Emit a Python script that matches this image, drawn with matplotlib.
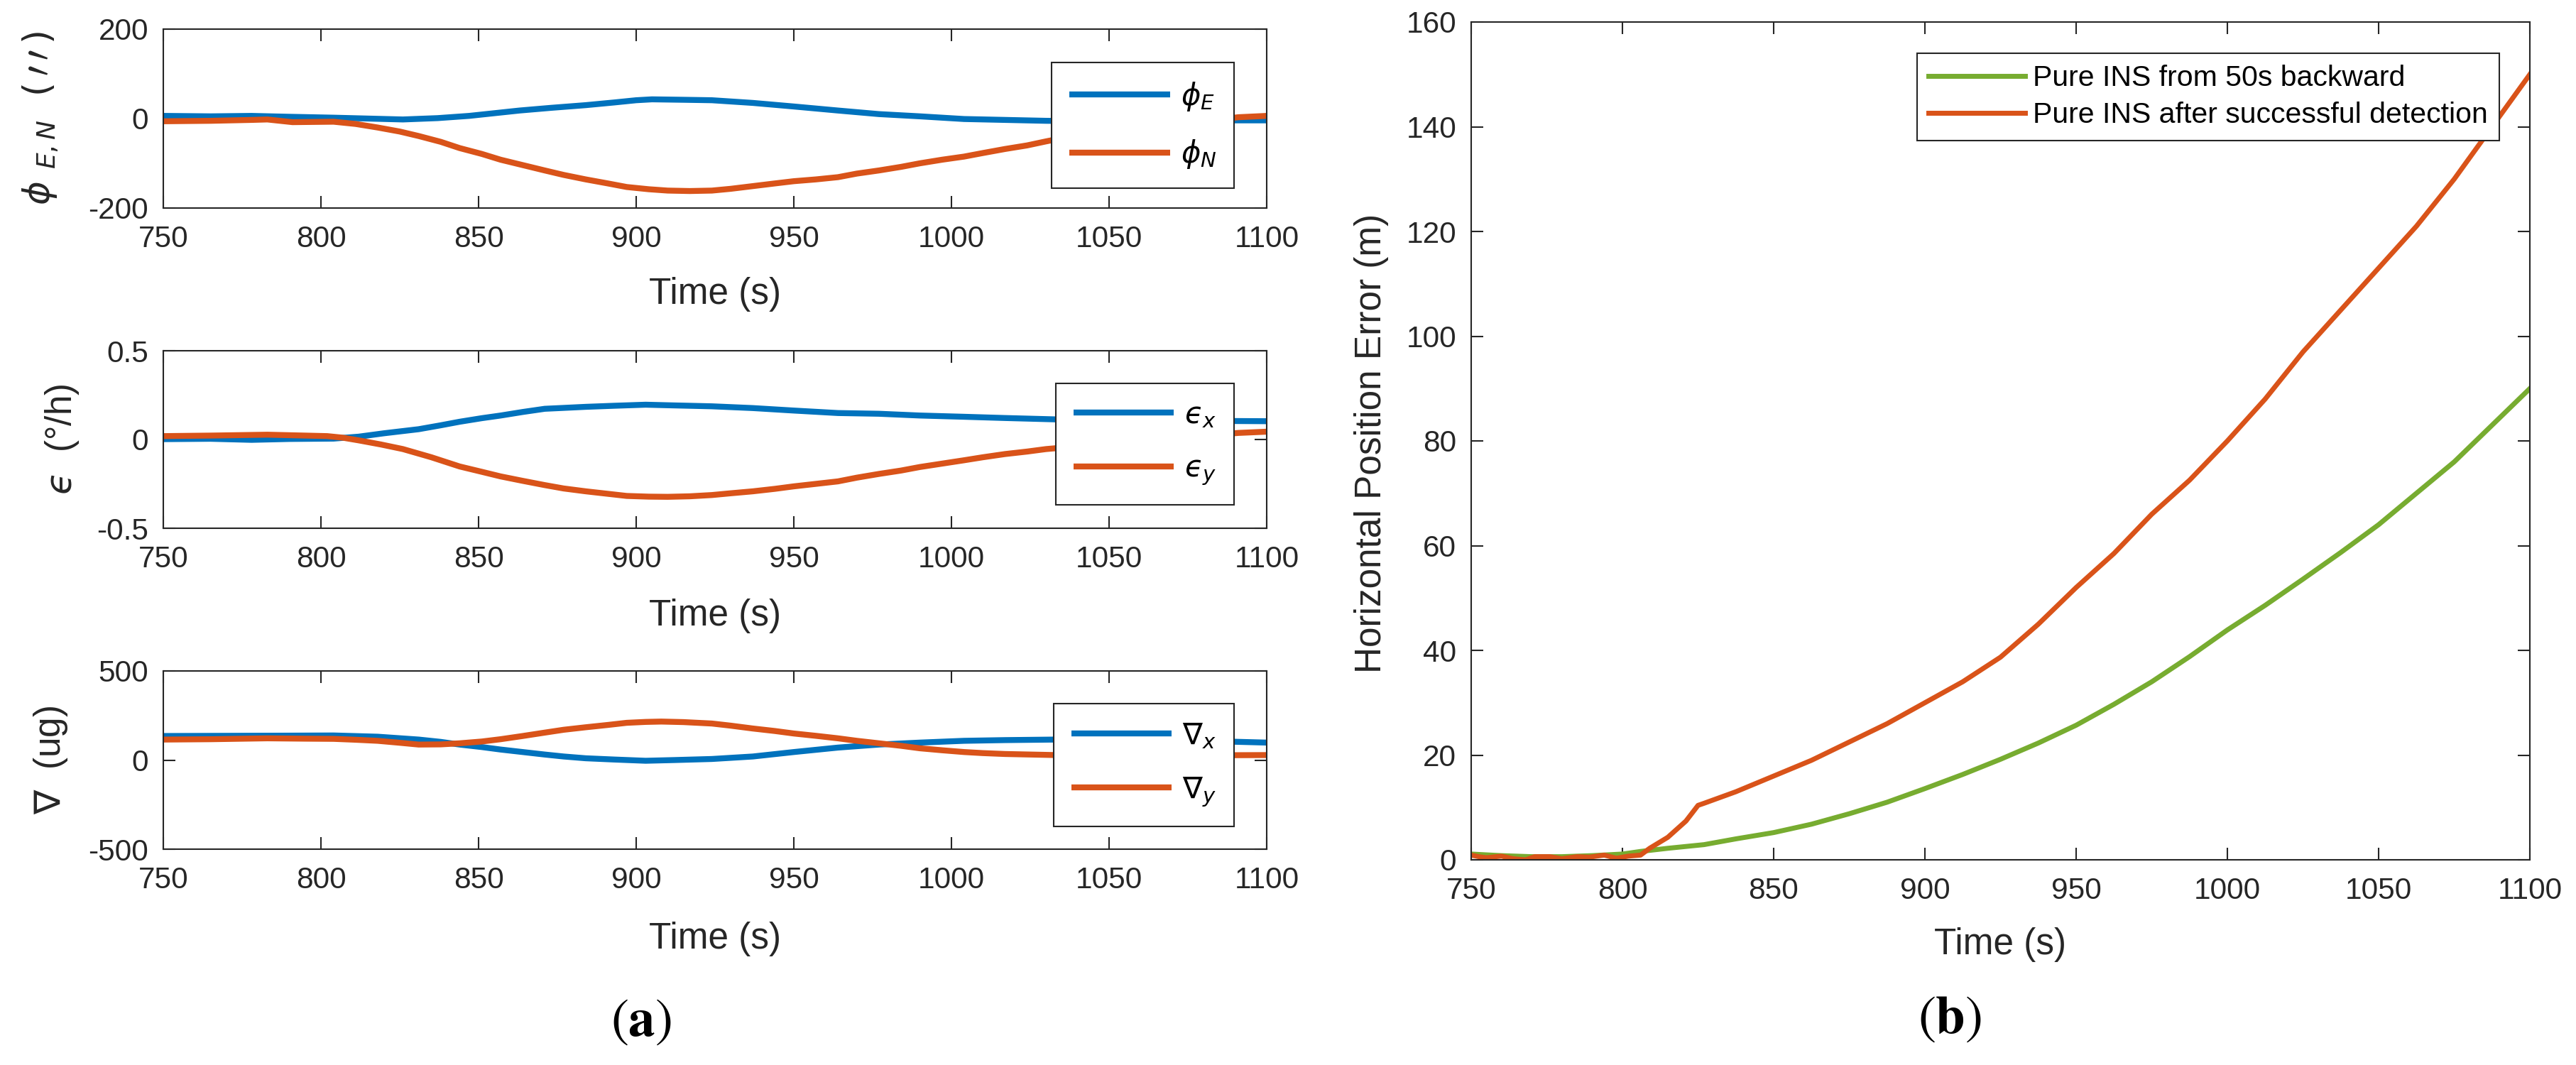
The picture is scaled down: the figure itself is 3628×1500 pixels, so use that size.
import matplotlib
matplotlib.use("Agg")
import matplotlib.pyplot as plt

plt.rcParams['font.family'] = ['Liberation Sans', 'DejaVu Sans']
plt.rcParams['axes.unicode_minus'] = False
plt.rcParams['mathtext.fontset'] = 'dejavusans'

BLUE = '#0072BD'
ORANGE = '#D95319'
GREEN = '#77AC30'
DARK = '#262626'

# ---------------- data ----------------
xticks = [750, 800, 850, 900, 950, 1000, 1050, 1100]

phiE_t = [750, 765, 778, 790, 804, 815, 826, 837, 847, 855, 863, 873, 884, 893, 900, 905, 915, 924,
          937, 950, 964, 977, 990, 1004, 1017, 1030, 1045, 1060, 1075, 1091, 1100]
phiE_v = [6, 5, 6, 4, 2, 0, -2, 1, 6, 12, 18, 24, 30, 36, 41, 43, 42, 41,
          35, 27, 18, 10, 5, -1, -3, -5, -6, -6, -5, -4, -4]

phiN_t = [750, 765, 778, 783, 791, 804, 811, 818, 825, 831, 838, 844, 851, 857, 864, 871, 877, 884,
          891, 897, 904, 910, 917, 924, 930, 937, 944, 950, 957, 964, 970, 977, 984, 990, 997, 1004,
          1010, 1017, 1024, 1030, 1035, 1050, 1065, 1080, 1091, 1100]
phiN_v = [-6, -5, -3, -2, -8, -7, -12, -20, -29, -39, -52, -66, -79, -92, -104, -116, -126, -136,
          -145, -153, -158, -161, -162, -161, -157, -151, -145, -140, -136, -131, -123, -116, -108, -100, -92, -85,
          -77, -68, -60, -51, -44, -31, -18, -6, 3, 6]

epsx_t = [750, 765, 778, 790, 804, 812, 820, 831, 838, 844, 851, 857, 864, 871, 877, 884, 893, 903,
          912, 924, 937, 950, 964, 977, 990, 1004, 1017, 1038, 1060, 1080, 1100]
epsx_v = [0.002, 0.004, -0.002, 0.003, 0.005, 0.016, 0.035, 0.058, 0.080, 0.10, 0.12, 0.135, 0.155,
          0.173, 0.178, 0.184, 0.190, 0.196, 0.192, 0.187, 0.177, 0.163, 0.149, 0.145, 0.135, 0.128,
          0.121, 0.111, 0.108, 0.105, 0.103]

epsy_t = [750, 765, 783, 795, 802, 807, 812, 819, 826, 835, 844, 851, 857, 864, 871, 877, 884, 891,
          897, 904, 910, 917, 924, 930, 937, 944, 950, 957, 964, 970, 977, 984, 990, 997, 1004, 1010,
          1017, 1024, 1030, 1039, 1055, 1070, 1085, 1091, 1100]
epsy_v = [0.019, 0.022, 0.027, 0.022, 0.019, 0.010, -0.005, -0.028, -0.054, -0.10, -0.152, -0.182,
          -0.208, -0.233, -0.257, -0.276, -0.292, -0.306, -0.318, -0.322, -0.323, -0.320, -0.313,
          -0.303, -0.292, -0.278, -0.264, -0.250, -0.236, -0.215, -0.194, -0.175, -0.155, -0.136,
          -0.117, -0.100, -0.082, -0.068, -0.054, -0.040, -0.015, 0.008, 0.028, 0.037, 0.044]

nabx_t = [750, 770, 790, 804, 818, 831, 838, 844, 851, 857, 864, 871, 877, 884, 893, 903, 912, 924,
          937, 950, 964, 977, 990, 1004, 1017, 1033, 1050, 1070, 1085, 1100]
nabx_v = [135, 136, 137, 138, 131, 115, 102, 87, 73, 59, 45, 31, 20, 10, 3, -4, 0, 6,
          20, 45, 70, 87, 98, 108, 112, 115, 117, 115, 105, 98]

naby_t = [750, 765, 783, 795, 804, 811, 818, 825, 831, 838, 844, 851, 857, 864, 871, 877, 884, 891,
          897, 903, 908, 915, 924, 930, 937, 944, 950, 957, 964, 970, 977, 984, 990, 997, 1004, 1010,
          1017, 1025, 1033, 1050, 1070, 1100]
naby_v = [115, 117, 122, 120, 119, 114, 108, 97, 87, 88, 94, 104, 117, 135, 154, 170, 184, 197,
          209, 214, 216, 213, 205, 193, 177, 163, 149, 136, 122, 108, 94, 80, 66, 55, 45, 39,
          34, 31, 28, 26, 26, 28]

green_t = [750, 760, 770, 780, 790, 800, 806, 815, 827, 837.5, 850, 862.5, 875, 887.5, 900, 912.5,
           925, 937.5, 950, 962.5, 975, 987.5, 1000, 1012.5, 1025, 1037.5, 1050, 1062.5, 1075,
           1087.5, 1100]
green_v = [1.1, 0.8, 0.6, 0.6, 0.8, 1.1, 1.6, 2.2, 2.9, 4.0, 5.2, 6.8, 8.8, 11.0, 13.6, 16.3,
           19.2, 22.3, 25.7, 29.7, 34.0, 38.8, 43.9, 48.6, 53.6, 58.7, 64.0, 70.0, 76.0, 83.0, 90.0]

red_t = [750, 752.5, 755, 760, 764, 768, 771, 776, 780, 785, 789, 794, 798, 802, 806, 809, 815, 821,
         825, 827, 837.5, 850, 862.5, 875, 887.5, 900, 912.5, 925, 937.5, 950, 962.5, 975, 987.5,
         1000, 1012.5, 1025, 1037.5, 1050, 1062.5, 1075, 1087.5, 1100]
red_v = [0.9, 0.6, 0.4, 0.7, 0.2, 0.0, 0.6, 0.6, 0.2, 0.6, 0.5, 0.9, 0.3, 0.7, 0.9, 2.2, 4.3, 7.4,
         10.4, 10.8, 13.0, 16.0, 19.0, 22.5, 26.0, 30.0, 34.0, 38.7, 45.0, 52.0, 58.5, 66.0, 72.5,
         80.0, 88.0, 97.0, 105.0, 113.0, 121.0, 130.0, 140.0, 150.0]

# ---------------- figure ----------------
W, H = 3628, 1500
fig = plt.figure(figsize=(W / 100, H / 100), dpi=100)


def px_axes(l, t, r, b):
    return fig.add_axes([l / W, 1 - b / H, (r - l) / W, (b - t) / H])


TICK_FS = 30.5
LABEL_FS = 37
LW_L = 6.0
LW_R = 5.0


def style(ax, xpad=17, ypad=15):
    for s in ax.spines.values():
        s.set_color(DARK)
        s.set_linewidth(1.5)
    ax.tick_params(direction='in', top=True, right=True, length=12, width=1.5,
                   colors=DARK, labelsize=TICK_FS)
    ax.tick_params(axis='x', pad=xpad)
    ax.tick_params(axis='y', pad=ypad)


left_boxes = [(230, 41, 1784, 293), (230, 494, 1784, 744), (230, 945, 1784, 1196)]
series = [
    (phiE_t, phiE_v, phiN_t, phiN_v, (-200, 200), [-200, 0, 200],
     r'$\phi_E$', r'$\phi_N$', r'$\phi\ _{E,N}\ \ (\,\prime\,\prime\,)$', -0.111),
    (epsx_t, epsx_v, epsy_t, epsy_v, (-0.5, 0.5), [-0.5, 0, 0.5],
     '$\u03f5_x$', '$\u03f5_y$', '$\u03f5$  (°/h)', -0.0914),
    (nabx_t, nabx_v, naby_t, naby_v, (-500, 500), [-500, 0, 500],
     r'$\nabla_x$', r'$\nabla_y$', r'$\nabla$  (ug)', -0.102),
]
ylabel_tick_fmt = [lambda v: f'{int(v)}', lambda v: ('0' if v == 0 else f'{v:g}'), lambda v: f'{int(v)}']
leg_anchor_y = [0.8135, 0.816, 0.8167]

for i, (box, s) in enumerate(zip(left_boxes, series)):
    t1, v1, t2, v2, ylim, yt, lab1, lab2, ylab, ylx = s
    ax = px_axes(*box)
    ax.plot(t1, v1, color=BLUE, lw=LW_L, label=lab1, solid_capstyle='butt')
    ax.plot(t2, v2, color=ORANGE, lw=LW_L, label=lab2, solid_capstyle='butt')
    ax.set_xlim(750, 1100)
    ax.set_ylim(*ylim)
    ax.set_xticks(xticks)
    ax.set_yticks(yt)
    ax.set_yticklabels([ylabel_tick_fmt[i](v) for v in yt])
    style(ax)
    ax.set_xlabel('Time (s)', fontsize=LABEL_FS, color=DARK)
    ax.xaxis.label.set_va('center')
    ax.xaxis.set_label_coords(0.5, [-0.484, -0.492, -0.502][i])
    ax.set_ylabel(ylab, fontsize=LABEL_FS, color=DARK)
    ax.yaxis.label.set_va('center')
    ax.yaxis.set_label_coords(ylx, 0.5)
    leg = ax.legend(loc='upper right', bbox_to_anchor=(0.9704, leg_anchor_y[i]),
                    borderaxespad=0, fontsize=30, handlelength=3.4, handletextpad=0.35,
                    borderpad=0.6, labelspacing=0.85, fancybox=False, framealpha=1,
                    edgecolor=DARK)
    leg.get_frame().set_linewidth(1.5)

# ---------------- panel b ----------------
axb = px_axes(2072, 31, 3563, 1211)
axb.plot(green_t, green_v, color=GREEN, lw=LW_R, label='Pure INS from 50s backward')
axb.plot(red_t, red_v, color=ORANGE, lw=LW_R, label='Pure INS after successful detection')
axb.set_xlim(750, 1100)
axb.set_ylim(0, 160)
axb.set_xticks(xticks)
axb.set_yticks(list(range(0, 161, 20)))
style(axb)
axb.set_xlabel('Time (s)', fontsize=LABEL_FS, color=DARK)
axb.xaxis.label.set_va('center')
axb.xaxis.set_label_coords(0.5, -0.101)
axb.set_ylabel('Horizontal Position Error (m)', fontsize=LABEL_FS, color=DARK)
axb.yaxis.label.set_va('center')
axb.yaxis.set_label_coords(-0.0939, 0.497)
legb = axb.legend(loc='upper right', bbox_to_anchor=(0.971, 0.963), borderaxespad=0,
                  fontsize=29.5, handlelength=3.3, handletextpad=0.27, borderpad=0.4,
                  labelspacing=0.35, fancybox=False, framealpha=1, edgecolor=DARK)
legb.get_frame().set_linewidth(1.5)

# ---------------- sub-figure captions ----------------
fig.text(903 / W, 1 - 1439 / H, r'$(\mathbf{a})$', ha='center', va='center', fontsize=54,
         math_fontfamily='stix', color='black')
fig.text(2746 / W, 1 - 1435 / H, r'$(\mathbf{b})$', ha='center', va='center', fontsize=54,
         math_fontfamily='stix', color='black')

fig.savefig('out.png', dpi=100, facecolor='white')
